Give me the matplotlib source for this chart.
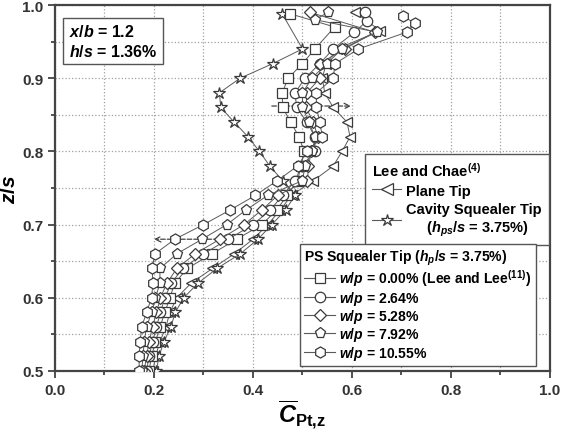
import matplotlib
matplotlib.use("Agg")
import matplotlib.pyplot as plt
from matplotlib.lines import Line2D
from matplotlib.ticker import MultipleLocator, FormatStrFormatter

plt.rcParams['font.family'] = ['Liberation Sans', 'DejaVu Sans']
plt.rcParams['font.weight'] = 'bold'
plt.rcParams['mathtext.fontset'] = 'custom'
plt.rcParams['mathtext.rm'] = 'Liberation Sans:bold'
plt.rcParams['mathtext.bf'] = 'Liberation Sans:bold'
plt.rcParams['mathtext.it'] = 'Liberation Sans:italic:bold'

# spanwise stations z/s (shared part), then the top points of each series
z_main = [0.50, 0.52, 0.54, 0.56, 0.58, 0.60, 0.62, 0.64, 0.66, 0.68, 0.70, 0.72,
          0.74, 0.76, 0.78, 0.80, 0.82, 0.84, 0.86, 0.88, 0.90, 0.92, 0.94]

hex_x = [0.170, 0.170, 0.172, 0.175, 0.185, 0.195, 0.198, 0.196, 0.202, 0.242, 0.300, 0.354,
         0.405, 0.449, 0.490, 0.510, 0.540, 0.535, 0.528, 0.528, 0.562, 0.566, 0.613]
pent_x = [0.175, 0.178, 0.180, 0.185, 0.195, 0.203, 0.212, 0.212, 0.246, 0.297, 0.347, 0.386,
          0.430, 0.500, 0.505, 0.520, 0.525, 0.513, 0.500, 0.500, 0.519, 0.549, 0.580]
dia_x = [0.180, 0.185, 0.190, 0.197, 0.205, 0.213, 0.226, 0.246, 0.283, 0.333, 0.382, 0.418,
         0.450, 0.510, 0.512, 0.518, 0.531, 0.522, 0.507, 0.509, 0.535, 0.535, 0.585]
circ_x = [0.185, 0.190, 0.197, 0.205, 0.213, 0.222, 0.235, 0.258, 0.300, 0.350, 0.400, 0.435,
          0.460, 0.485, 0.498, 0.525, 0.525, 0.509, 0.488, 0.485, 0.505, 0.535, 0.562]
sq_x = [0.190, 0.195, 0.203, 0.212, 0.222, 0.232, 0.242, 0.267, 0.317, 0.367, 0.418, 0.448,
        0.469, 0.490, 0.497, 0.503, 0.493, 0.476, 0.460, 0.459, 0.471, 0.500, 0.525]
plane_x = [0.198, 0.203, 0.212, 0.224, 0.232, 0.246, 0.275, 0.318, 0.362, 0.400, 0.430, 0.455,
           0.478, 0.522, 0.562, 0.580, 0.596, 0.590, 0.562, 0.545, 0.540, 0.548, 0.570]
star_x = [0.205, 0.210, 0.220, 0.234, 0.243, 0.260, 0.289, 0.327, 0.374, 0.410, 0.438, 0.466,
          0.485, 0.460, 0.434, 0.413, 0.390, 0.362, 0.335, 0.332, 0.374, 0.440, 0.500]

hex_top_z, hex_top_x = [0.963, 0.975, 0.985], [0.711, 0.727, 0.703]
pent_top_z, pent_top_x = [0.963, 0.980, 0.990], [0.650, 0.525, 0.552]
dia_top_z, dia_top_x = [0.963, 0.990], [0.646, 0.515]
circ_top_z, circ_top_x = [0.963, 0.978, 0.990], [0.605, 0.630, 0.626]
sq_top_z, sq_top_x = [0.970, 0.988], [0.565, 0.475]
plane_top_z, plane_top_x = [0.965, 0.990], [0.657, 0.606]
star_top_z, star_top_x = [0.988], [0.459]

# dashed arrows (x_start, x_end, z)
arrow_up = (0.438, 0.598, 0.862)
arrow_down = (0.370, 0.200, 0.680)

ps_labels = [r'$w/p$ = 0.00% (Lee and Lee$^{(11)}$)', r'$w/p$ = 2.64%',
             r'$w/p$ = 5.28%', r'$w/p$ = 7.92%', r'$w/p$ = 10.55%']
lc_labels = ['Plane Tip', 'Cavity Squealer Tip\n     ($h_{ps}/s$ = 3.75%)']

edge = '#3a3a3a'
linec = '#5a5a5a'

fig = plt.figure(figsize=(5.67, 4.31), dpi=100)
ax = fig.add_axes([0.097, 0.137, 0.873, 0.849])

series = [
    (plane_x + plane_top_x, z_main + plane_top_z, '<', 7.5),
    (star_x + star_top_x, z_main + star_top_z, '*', 9),
    (sq_x + sq_top_x, z_main + sq_top_z, 's', 6.5),
    (circ_x + circ_top_x, z_main + circ_top_z, 'o', 7.5),
    (dia_x + dia_top_x, z_main + dia_top_z, 'D', 6),
    (pent_x + pent_top_x, z_main + pent_top_z, 'p', 8),
    (hex_x + hex_top_x, z_main + hex_top_z, 'h', 8),
]
for xs, zs, m, ms in series:
    ax.plot(xs, zs, color=linec, lw=0.7, marker=m, ms=ms, mfc='white',
            mec=edge, mew=0.9, zorder=3)

for xa, xb, za in [arrow_up, arrow_down]:
    ax.annotate('', xy=(xb, za), xytext=(xa, za),
                arrowprops=dict(arrowstyle='->', ls='--', color='#444444', lw=0.9,
                                shrinkA=0, shrinkB=0), zorder=2)

ax.set_xlim(0.0, 1.0)
ax.set_ylim(0.5, 1.0)
ax.xaxis.set_major_locator(MultipleLocator(0.2))
ax.xaxis.set_minor_locator(MultipleLocator(0.1))
ax.yaxis.set_major_locator(MultipleLocator(0.1))
ax.yaxis.set_minor_locator(MultipleLocator(0.05))
ax.grid(True, which='both', ls=':', color='#a0a0a0', lw=0.9, zorder=0)
ax.set_axisbelow(True)
ax.tick_params(which='both', direction='out', colors='#333333', labelsize=11,
               width=1.2)
ax.tick_params(which='major', length=5)
ax.tick_params(which='minor', length=3)
ax.xaxis.set_major_formatter(FormatStrFormatter('%.1f'))
ax.yaxis.set_major_formatter(FormatStrFormatter('%.1f'))
for sp in ax.spines.values():
    sp.set_linewidth(1.6)
    sp.set_color('#444444')

ax.set_ylabel(r'$z/s$', fontsize=15, labelpad=2)
ax.set_xlabel(r'$\overline{C}_{\mathrm{Pt{,}z}}$', fontsize=17, labelpad=0)

ax.text(0.028, 0.95, '$x/b$ = 1.2\n$h/s$ = 1.36%', transform=ax.transAxes,
        fontsize=11.5, va='top', ha='left', linespacing=1.25,
        bbox=dict(boxstyle='square,pad=0.35', fc='white', ec='#555555', lw=1.0),
        zorder=5)


def handle(m, ms):
    return Line2D([], [], color=linec, lw=0.8, marker=m, ms=ms, mfc='white',
                  mec=edge, mew=0.9)


lc_handles = [handle('<', 8), handle('*', 9)]
leg1 = ax.legend(lc_handles, lc_labels, title='Lee and Chae$^{(4)}$',
                 loc='upper left', bbox_to_anchor=(0.626, 0.593), fontsize=10.5,
                 title_fontsize=10.5, alignment='left', fancybox=False,
                 edgecolor='#555555', framealpha=1, handlelength=2.0,
                 handletextpad=0.3, labelspacing=0.3, borderpad=0.5,
                 borderaxespad=0)
leg1.get_frame().set_linewidth(1.0)
ax.add_artist(leg1)

ps_handles = [handle('s', 7), handle('o', 7.5), handle('D', 6.5), handle('p', 8),
              handle('h', 8)]
leg2 = ax.legend(ps_handles, ps_labels, title='PS Squealer Tip ($h_p/s$ = 3.75%)',
                 loc='lower left', bbox_to_anchor=(0.495, 0.014), fontsize=10.1,
                 title_fontsize=10.1, alignment='left', fancybox=False,
                 edgecolor='#555555', framealpha=1, handlelength=2.2,
                 handletextpad=0.3, labelspacing=0.02, borderpad=0.3,
                 borderaxespad=0)
leg2.get_frame().set_linewidth(1.0)
leg2.set_zorder(6)
leg1.set_zorder(6)

fig.savefig('out.png', dpi=100)
